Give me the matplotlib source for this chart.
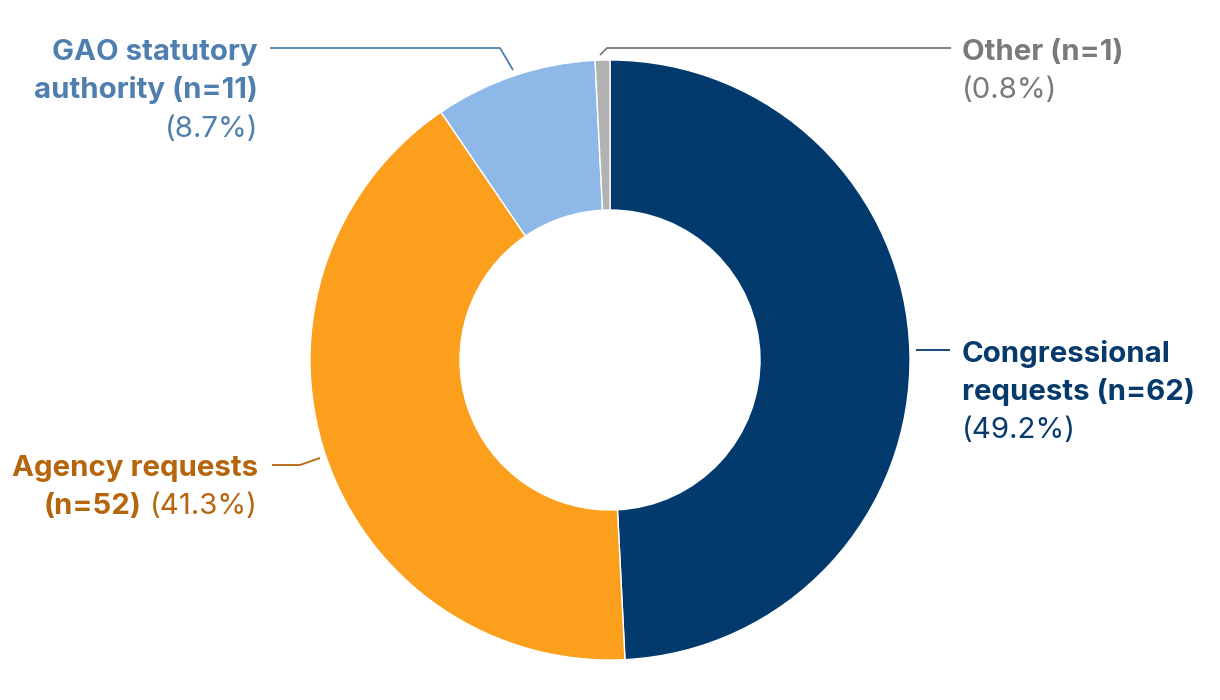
import matplotlib.pyplot as plt

# data
categories = ['Congressional requests', 'Agency requests', 'GAO statutory authority', 'Other']
counts = [62, 52, 11, 1]
slice_colors = ['#023a6e', '#fb9f1d', '#8db8e8', '#b2b2b2']
text_colors = ['#063a6c', '#b5650c', '#4f7fae', '#7a7a7a']

total = sum(counts)
pcts = [100.0 * c / total for c in counts]

plt.rcParams['font.family'] = ['Inter', 'DejaVu Sans']

fig = plt.figure(figsize=(12.2, 7.0), dpi=100)
ax = fig.add_axes([0, 0, 1, 1])

ax.pie(counts, colors=slice_colors, startangle=90, counterclock=False,
       center=(610, -360), radius=300, frame=False,
       wedgeprops=dict(width=150, edgecolor='white', linewidth=1))
ax.set_xlim(0, 1220)
ax.set_ylim(-700, 0)
ax.set_aspect('equal')
ax.axis('off')

fs = 21.2


def line(x, y, s, c, ha, bold=True):
    return ax.text(x, -y, s, color=c, ha=ha, va='baseline', fontsize=fs,
                   fontweight='bold' if bold else 'normal')


def leader(xs, ys, c):
    ax.plot(xs, [-v for v in ys], color=c, lw=1.3, solid_capstyle='butt')


# Congressional
c = text_colors[0]
line(962, 362, 'Congressional', c, 'left')
line(962, 400, 'requests (n=%d)' % counts[0], c, 'left')
line(962, 438, '(%.1f%%)' % pcts[0], c, 'left', bold=False)
leader([916, 950], [350, 350], c)

# Agency
c = text_colors[1]
line(258, 476, 'Agency requests', c, 'right')
t = line(258, 514, '(%.1f%%)' % pcts[1], c, 'right', bold=False)
fig.canvas.draw()
bb = t.get_window_extent()
x0 = ax.transData.inverted().transform((bb.x0, bb.y0))[0]
line(x0 - 8, 514, '(n=%d)' % counts[1], c, 'right')
leader([272, 300, 320], [465, 465, 458], c)

# GAO
c = text_colors[2]
line(258, 60, 'GAO statutory', c, 'right')
line(258, 98, 'authority (n=%d)' % counts[2], c, 'right')
line(258, 137, '(%.1f%%)' % pcts[2], c, 'right', bold=False)
leader([270, 500, 513], [48, 48, 70], c)

# Other
c = text_colors[3]
line(962, 60, 'Other (n=%d)' % counts[3], c, 'left')
line(962, 98, '(%.1f%%)' % pcts[3], c, 'left', bold=False)
leader([951, 607, 600], [48, 48, 55], c)

fig.savefig('out.png', dpi=100)
